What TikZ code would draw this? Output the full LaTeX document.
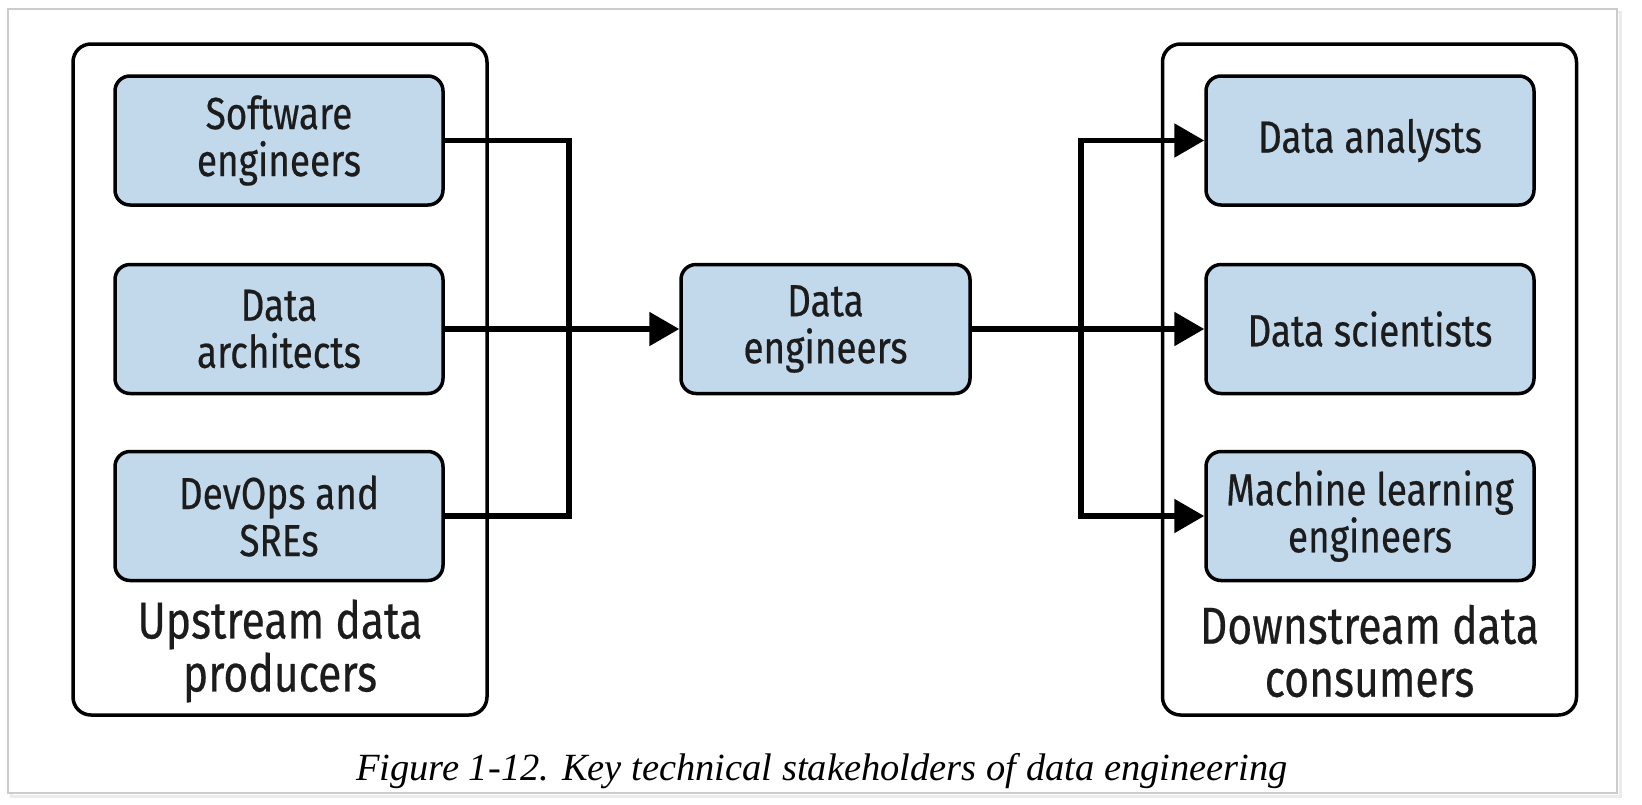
\documentclass[tikz,border=0pt]{standalone}
\usepackage{fontspec}
\setmainfont{Liberation Serif}
\newfontfamily\boxfont{Fira Sans}[FakeStretch=0.82, FakeBold=0.4]
\usetikzlibrary{arrows.meta}
\definecolor{boxblue}{RGB}{194,217,236}
\definecolor{ink}{RGB}{28,28,28}
\begin{document}
\begin{tikzpicture}[x=1pt,y=-1pt,
  role/.style={draw=black, line width=3.5pt, fill=boxblue, rounded corners=15pt,
    minimum width=328pt, minimum height=129pt, align=center, inner sep=0pt,
    text=ink, font=\boxfont\fontsize{45}{47}\selectfont},
  group/.style={draw=black, line width=3.5pt, rounded corners=18pt,
    minimum width=414pt, minimum height=671pt, inner sep=0pt},
  grouplabel/.style={align=center, inner sep=0pt, text=ink,
    font=\boxfont\fontsize{52}{53}\selectfont},
  conn/.style={line width=5.5pt},
  arr/.style={conn, -{Triangle[length=30pt,width=33pt]}}]
\useasboundingbox (0,0) rectangle (1642,804);
\fill[white] (0,0) rectangle (1642,804);
% outer frame with faint shadow
\draw[gray!15, line width=3pt] (11,12) rectangle (1620,796);
\draw[gray!40, line width=1.5pt, fill=white] (8,9) rectangle (1617,793);
% group boxes
\node[group] (up) at (280,379.5) {};
\node[group] (down) at (1369.5,379.5) {};
% role boxes
\node[role] (sw) at (279,140.5) {Software\\engineers};
\node[role] (da) at (279,329) {Data\\architects};
\node[role] (dev) at (279,516) {DevOps and\\SREs};
\node[role, minimum width=289pt] (de) at (825.5,329) {Data\\engineers};
\node[role] (dan) at (1370,140.5) {Data analysts};
\node[role] (ds) at (1370,329) {Data scientists};
\node[role] (ml) at (1370,516) {Machine learning\\engineers};
% group labels
\node[grouplabel] (upl) at (280,651) {Upstream data\\producers};
\node[grouplabel] (downl) at (1369.5,651) {Downstream data\\consumers};
% connectors
\coordinate (bl) at (569,329);
\coordinate (br) at (1081,329);
\draw[conn] (sw.east) -| (bl);
\draw[conn] (dev.east) -| (bl);
\draw[arr] (da.east) -- (de.west);
\draw[arr] (de.east) -- (ds.west);
\draw[arr] (br) |- (dan.west);
\draw[arr] (br) |- (ml.west);
% caption
\node[font=\itshape\fontsize{38.5}{44}\selectfont, inner sep=0pt] (cap) at (822,771)
  {Figure 1-12. Key technical stakeholders of data engineering};
\end{tikzpicture}
\end{document}
